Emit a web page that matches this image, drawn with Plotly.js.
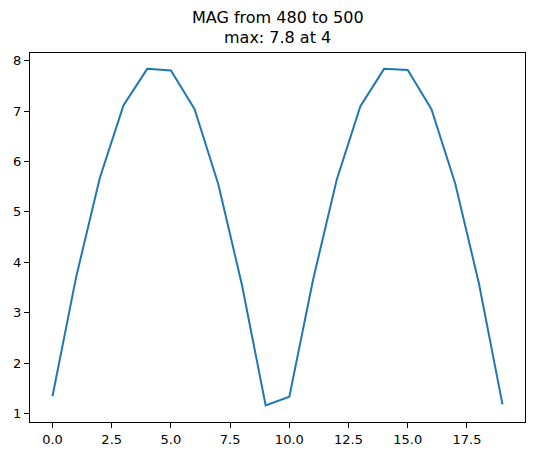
<!DOCTYPE html>
<html>
<head>
<meta charset="utf-8">
<script src="https://cdn.plot.ly/plotly-3.0.1.min.js"></script>
<style>html,body{margin:0;padding:0;background:#fff;}#chart{width:534px;height:456px;}</style>
</head>
<body>
<div id="chart"></div>
<script>
const xValues = [0,1,2,3,4,5,6,7,8,9,10,11,12,13,14,15,16,17,18,19];
const magValues = [1.34,3.71,5.68,7.12,7.84,7.81,7.04,5.55,3.55,1.16,1.33,3.65,5.64,7.10,7.84,7.82,7.04,5.57,3.59,1.18];
const titleLines = ["MAG from 480 to 500", "max: 7.8 at 4"];
const xTickVals = [0,2.5,5,7.5,10,12.5,15,17.5];
const yTickVals = [1,2,3,4,5,6,7,8];

const font = {family: "DejaVu Sans", color: "#000"};
const titleShifts = [36, 16];
Plotly.newPlot("chart", [{
  x: xValues, y: magValues, type: "scatter", mode: "lines",
  line: {color: "#1f77b4", width: 2}, hoverinfo: "none"
}], {
  width: 534, height: 456,
  margin: {l: 30, r: 9, t: 53, b: 34},
  paper_bgcolor: "#fff", plot_bgcolor: "#fff",
  showlegend: false,
  annotations: titleLines.map((t, i) => ({
    text: t, xref: "paper", yref: "paper", x: 0.5, y: 1, xanchor: "center", yanchor: "middle",
    yshift: titleShifts[i], showarrow: false, font: Object.assign({size: 16}, font)
  })),
  xaxis: {range: [-0.95, 19.95], tickvals: xTickVals, ticktext: xTickVals.map(v => v.toFixed(1)),
    showgrid: false, zeroline: false, showline: true, mirror: true, linecolor: "#000", linewidth: 1,
    ticks: "outside", ticklen: 5, tickcolor: "#000", tickfont: Object.assign({size: 13}, font)},
  yaxis: {range: [0.83, 8.155], tickvals: yTickVals, ticktext: yTickVals.map(String),
    showgrid: false, zeroline: false, showline: true, mirror: true, linecolor: "#000", linewidth: 1,
    ticks: "outside", ticklen: 5, tickcolor: "#000", tickfont: Object.assign({size: 13}, font)}
}, {staticPlot: true});
</script>
</body>
</html>
